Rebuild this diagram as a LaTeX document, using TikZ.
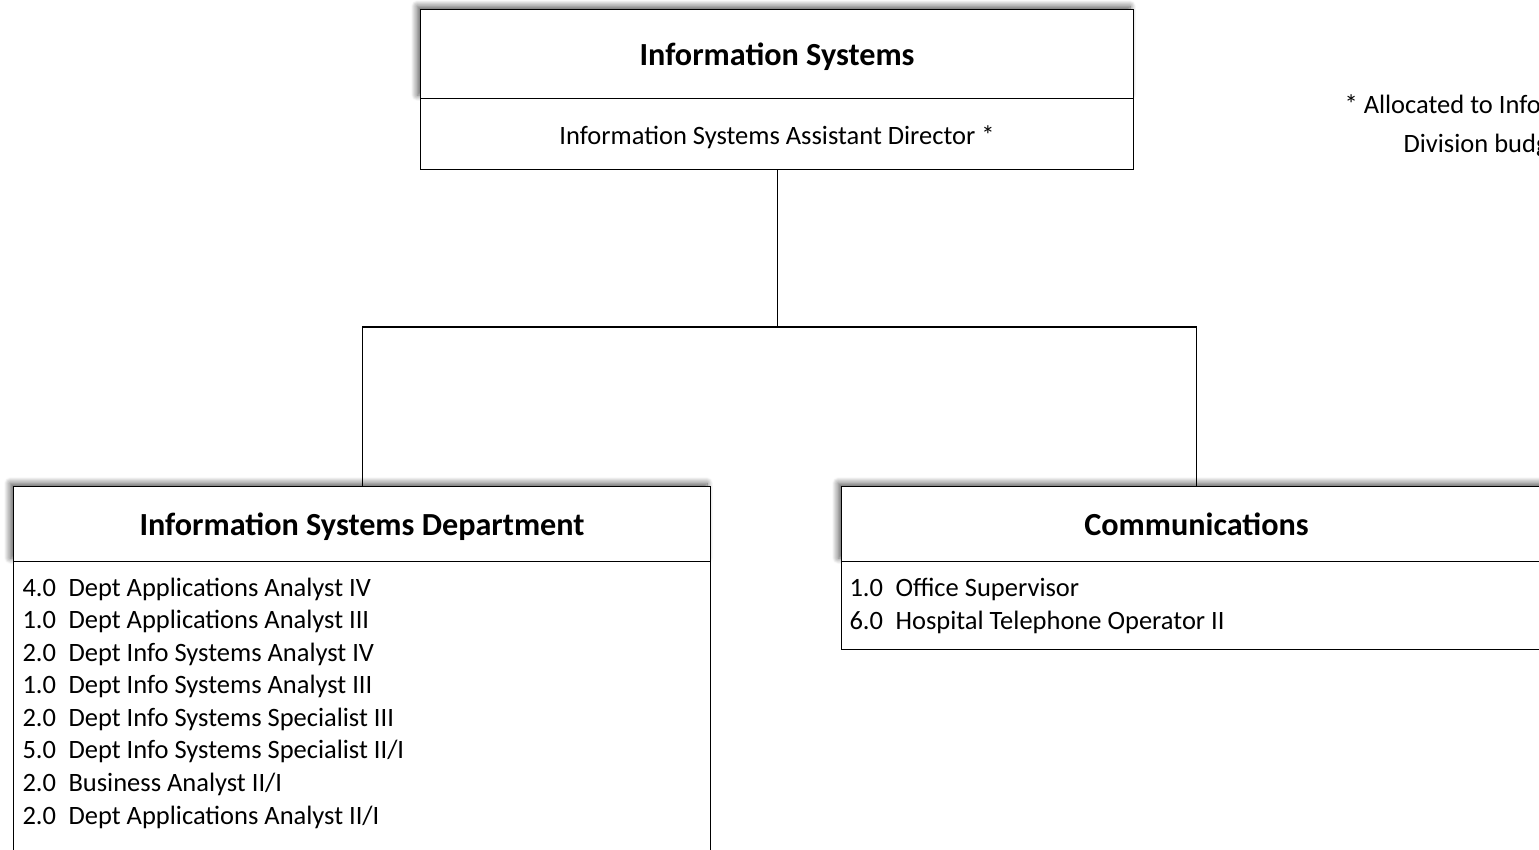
\documentclass[tikz,border=0pt]{standalone}
\usepackage{fontspec}
\setmainfont{Carlito}
\usetikzlibrary{shadows.blur}
\begin{document}
\begin{tikzpicture}[x=1pt,y=-1pt,line width=1.1pt,
  hdrbox/.style={draw=black, fill=white, inner sep=0pt, anchor=north west,
    font=\bfseries\fontsize{32.2}{38}\selectfont, text height=23pt, text depth=0pt,
    blur shadow={shadow xshift=-3.5pt, shadow yshift=3.5pt, shadow blur radius=6pt, shadow blur steps=12, shadow opacity=65}},
  bodybox/.style={draw=black, fill=white, inner sep=0pt, anchor=north west},
  bodytext/.style={inner sep=0pt, anchor=base west, font=\fontsize{26.5}{32}\selectfont},
  subtext/.style={font=\fontsize{26.5}{32}\selectfont, text height=20pt, text depth=0pt}]
\useasboundingbox (0,0) rectangle (1539,849);
\clip (0,0) rectangle (1539,849);

% top unit
\node[hdrbox, minimum width=713pt, minimum height=89pt] (tophdr) at (420,9) {Information Systems};
\node[bodybox, subtext, minimum width=713pt, minimum height=71pt] (topsub) at (420,98) {Information Systems Assistant Director *};

% note
\node[bodytext] (note1) at (1344,113) {* Allocated to Info};
\node[bodytext] (note2) at (1403,152) {Division budg};

% left unit
\node[hdrbox, minimum width=697pt, minimum height=75pt] (lhdr) at (13,486) {Information Systems Department};
\node[bodybox, minimum width=697pt, minimum height=400pt] (lbody) at (13,561) {};
\foreach \n/\t [count=\i from 0] in {4.0/Dept Applications Analyst IV,
  1.0/Dept Applications Analyst III,
  2.0/Dept Info Systems Analyst IV,
  1.0/Dept Info Systems Analyst III,
  2.0/Dept Info Systems Specialist III,
  5.0/Dept Info Systems Specialist II\slash I,
  2.0/Business Analyst II\slash I,
  2.0/Dept Applications Analyst II\slash I}
  \node[bodytext] (litem\i) at (22,596+32.57*\i) {\makebox[46pt][l]{\n}\t};

% right unit
\node[hdrbox, minimum width=710pt, minimum height=75pt] (rhdr) at (841,486) {Communications};
\node[bodybox, minimum width=710pt, minimum height=88pt] (rbody) at (841,561) {};
\node[bodytext] (ritem0) at (849,596) {\makebox[46pt][l]{1.0}Office Supervisor};
\node[bodytext] (ritem1) at (849,629) {\makebox[46pt][l]{6.0}Hospital Telephone Operator II};

% connectors
\coordinate (bus) at (776,327);
\draw (topsub.south) -- (topsub.south |- bus);
\draw (lhdr.north) |- (bus) -| (rhdr.north);
\end{tikzpicture}
\end{document}
